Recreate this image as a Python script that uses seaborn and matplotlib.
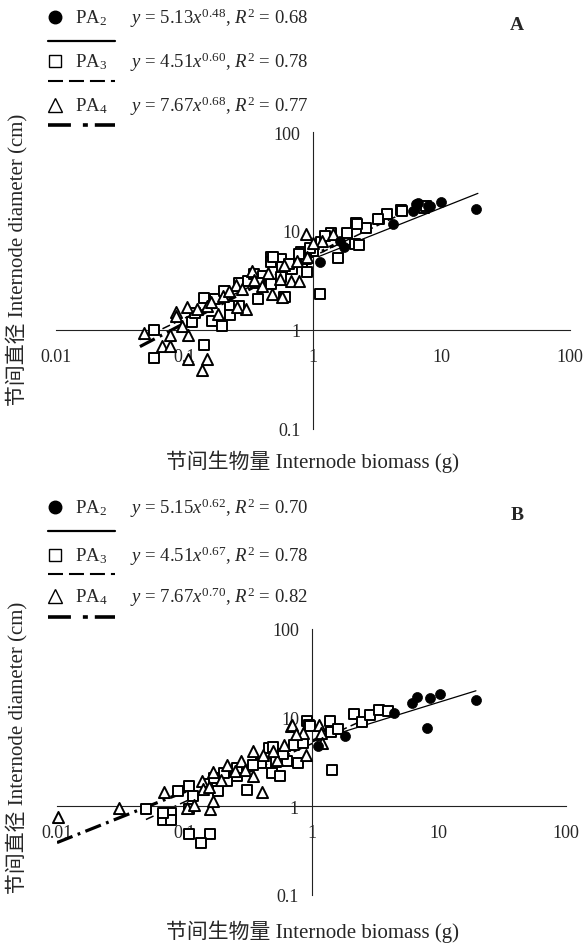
import numpy as np
import pandas as pd
import matplotlib
matplotlib.use("Agg")
import matplotlib.pyplot as plt
from matplotlib.lines import Line2D
from matplotlib.ticker import NullLocator
import seaborn as sns

# ---- panel A data ----
a_pa2_x = [1.13, 1.74, 1.61, 4.17, 5.95, 6.6, 8.1, 7.8, 9.86, 18.5, 6.3]
a_pa2_y = [4.9, 6.85, 8.0, 11.7, 16.0, 19.2, 17.7, 18.0, 19.8, 16.7, 18.7]

a_pa3_x = [0.058, 0.058, 0.142, 0.114, 0.163, 0.197, 0.142, 0.173, 0.203, 0.226,
           0.226, 0.266, 0.266, 0.31, 0.348, 0.408, 0.37, 0.47, 0.47, 0.47,
           0.56, 0.56, 0.595, 0.69, 0.80, 0.90, 0.82, 0.577, 1.13, 1.57,
           2.15, 2.12, 1.85, 1.37, 1.15, 1.0, 0.80, 0.88, 2.57, 3.27,
           3.78, 4.8, 7.3, 0.61, 0.486, 0.78, 1.24, 2.2, 2.28, 3.23,
           4.9, 7.6, 0.12, 0.38, 0.65, 0.95]
a_pa3_y = [1.0, 0.52, 0.71, 1.21, 1.24, 1.10, 2.09, 2.06, 2.49, 1.73,
           1.42, 1.73, 2.98, 3.15, 3.68, 3.53, 2.06, 2.91, 5.42, 4.9,
           3.4, 5.2, 2.14, 4.13, 5.86, 3.83, 4.83, 4.3, 2.31, 5.3,
           12.0, 7.4, 9.5, 9.5, 7.8, 6.3, 6.1, 5.2, 10.6, 13.2,
           14.9, 16.4, 16.9, 2.14, 5.42, 5.86, 8.9, 11.7, 7.2, 13.2,
           16.0, 17.7, 1.5, 3.0, 4.6, 6.8]

a_pa4_x = [0.048, 0.067, 0.077, 0.077, 0.107, 0.096, 0.107, 0.151, 0.138, 0.086,
           0.086, 0.105, 0.126, 0.183, 0.30, 0.257, 0.151, 0.25, 0.333, 0.477,
           0.577, 0.67, 0.78, 0.40, 0.89, 1.42, 1.18, 0.2, 0.22, 0.35,
           0.45, 0.6, 0.75, 0.9, 1.0, 0.55, 0.16, 0.28]
a_pa4_y = [0.93, 0.69, 0.69, 0.88, 0.88, 1.09, 0.51, 0.51, 0.39, 1.51,
           1.38, 1.69, 1.63, 1.45, 1.63, 1.69, 1.76, 2.85, 3.98, 2.31,
           2.14, 3.15, 3.15, 2.8, 9.3, 9.3, 8.0, 2.2, 2.5, 3.2,
           3.8, 4.5, 5.0, 5.5, 7.5, 3.3, 1.9, 2.6]

# fitted lines, end points
a_fit2_x, a_fit2_y = [1.1, 19.2], [5.5, 24.0]
a_fit3_x, a_fit3_y = [0.045, 8.5], [0.8, 21.0]
a_fit4_x, a_fit4_y = [0.045, 1.45], [0.68, 7.2]

# ---- panel B data ----
b_pa2_x = [1.12, 1.85, 4.46, 6.2, 6.7, 8.6, 10.2, 19.6, 8.1]
b_pa2_y = [4.74, 6.25, 11.2, 14.6, 16.9, 16.6, 18.5, 16.0, 7.6]

b_pa3_x = [0.05, 0.068, 0.078, 0.078, 0.068, 0.109, 0.159, 0.136, 0.109, 0.089,
           0.118, 0.109, 0.31, 0.184, 0.26, 0.218, 0.49, 0.57, 0.79, 0.64,
           0.53, 0.46, 0.5, 0.73, 0.92, 0.95, 0.85, 0.4, 0.26, 0.205,
           0.98, 1.41, 1.46, 1.43, 1.61, 2.15, 2.5, 2.9, 3.38, 3.97,
           0.6, 0.35, 0.15, 0.17]
b_pa3_y = [0.94, 0.71, 0.84, 0.71, 0.84, 0.49, 0.49, 0.39, 1.68, 1.5,
           1.30, 0.93, 1.54, 1.48, 2.18, 1.91, 2.37, 2.18, 3.08, 3.21,
           3.15, 4.54, 4.7, 4.96, 9.1, 8.2, 5.17, 3.08, 2.7, 2.37,
           8.0, 9.2, 2.59, 6.87, 7.5, 11.0, 8.9, 10.6, 12.3, 11.8,
           3.9, 2.9, 1.8, 2.1]

b_pa4_x = [0.0101, 0.0305, 0.069, 0.105, 0.119, 0.159, 0.169, 0.138, 0.141, 0.169,
           0.218, 0.25, 0.35, 0.41, 0.35, 0.418, 0.606, 0.69, 0.86, 0.54,
           0.277, 0.193, 0.156, 0.705, 0.76, 1.14, 1.19, 1.21, 0.9, 0.5, 0.3]
b_pa4_y = [0.75, 0.95, 1.45, 0.97, 1.04, 0.94, 1.16, 1.91, 1.58, 2.44,
           2.9, 2.48, 2.18, 1.44, 4.17, 3.83, 4.96, 7.98, 6.7, 3.36,
           3.21, 2.0, 1.64, 8.3, 6.5, 8.3, 6.7, 5.17, 3.83, 4.2, 2.6]

b_fit2_x, b_fit2_y = [1.1, 19.6], [5.6, 20.1]
b_fit3_x, b_fit3_y = [0.05, 4.2], [0.71, 13.0]
b_fit4_x, b_fit4_y = [0.01, 1.3], [0.39, 6.3]

eq_a = [r"$y$ = 5.13$x^{0.48}$, $R^2$ = 0.68",
        r"$y$ = 4.51$x^{0.60}$, $R^2$ = 0.78",
        r"$y$ = 7.67$x^{0.68}$, $R^2$ = 0.77"]
eq_b = [r"$y$ = 5.15$x^{0.62}$, $R^2$ = 0.70",
        r"$y$ = 4.51$x^{0.67}$, $R^2$ = 0.78",
        r"$y$ = 7.67$x^{0.70}$, $R^2$ = 0.82"]
series_names = [r"PA$_2$", r"PA$_3$", r"PA$_4$"]

x_ticks = [0.01, 0.1, 1, 10, 100]
x_labels = ["0.01", "0.1", "1", "10", "100"]
y_ticks = [0.1, 1, 10, 100]
y_labels = ["0.1", "1", "10", "100"]

sns.set_style("white")
plt.rcParams["font.family"] = ["Liberation Serif", "Noto Sans CJK SC"]
plt.rcParams["mathtext.fontset"] = "custom"
plt.rcParams["mathtext.rm"] = "Liberation Serif"
plt.rcParams["mathtext.it"] = "Liberation Serif:italic"
plt.rcParams["lines.scale_dashes"] = False

W, H = 585, 945
fig = plt.figure(figsize=(W / 100, H / 100), dpi=100)


def fx(px):
    return px / W


def fy(py):
    return 1 - py / H


dash3 = (0, (6, 3))
dash4 = (0, (12, 4, 2, 4))


def draw_panel(rect, p2, p3, p4, f2, f3, f4):
    ax = fig.add_axes(rect)
    ax.set_xscale("log")
    ax.set_yscale("log")
    ax.set_xlim(0.01, 100)
    ax.set_ylim(0.1, 100)

    sns.lineplot(x=f2[0], y=f2[1], ax=ax, color="black", linewidth=0.9)
    sns.lineplot(x=f3[0], y=f3[1], ax=ax, color="black", linewidth=1.1, linestyle=dash3)
    sns.lineplot(x=f4[0], y=f4[1], ax=ax, color="black", linewidth=2.3, linestyle=dash4)

    sns.scatterplot(x=p3[0], y=p3[1], ax=ax, marker="s", s=48, color="white",
                    edgecolor="black", linewidth=1.4, zorder=3, clip_on=False)
    sns.scatterplot(x=p4[0], y=p4[1], ax=ax, marker="^", s=64, color="white",
                    edgecolor="black", linewidth=1.4, zorder=3, clip_on=False)
    sns.scatterplot(x=p2[0], y=p2[1], ax=ax, marker="o", s=52, color="black",
                    edgecolor="black", linewidth=0.5, zorder=4, clip_on=False)

    for side in ["top", "right"]:
        ax.spines[side].set_visible(False)
    ax.spines["left"].set_position(("data", 1))
    ax.spines["bottom"].set_position(("data", 1))
    for side in ["left", "bottom"]:
        ax.spines[side].set_linewidth(0.8)
        ax.spines[side].set_color("#222222")

    ax.set_xticks(x_ticks)
    ax.set_xticklabels(x_labels)
    ax.set_yticks(y_ticks)
    ax.set_yticklabels(y_labels)
    ax.xaxis.set_minor_locator(NullLocator())
    ax.yaxis.set_minor_locator(NullLocator())
    ax.tick_params(axis="x", direction="in", length=3, width=0.8, pad=13, labelsize=13)
    ax.tick_params(axis="y", direction="in", length=3, width=0.8, pad=9, labelsize=13)
    ax.set_xlabel("")
    ax.set_ylabel("")
    ax.patch.set_alpha(0)
    return ax


def draw_legend(rows, lines, eqs, letter, letter_y):
    markers = [dict(marker="o", markerfacecolor="black", markersize=9),
               dict(marker="s", markerfacecolor="white", markersize=8.5),
               dict(marker="^", markerfacecolor="white", markersize=9.5)]
    for ry, mk, name, eq in zip(rows, markers, series_names, eqs):
        fig.add_artist(Line2D([fx(55)], [fy(ry)], transform=fig.transFigure,
                              markeredgecolor="black", markeredgewidth=1.0,
                              linestyle="none", **mk))
        fig.text(fx(75), fy(ry), name, fontsize=13.5, va="center", ha="left")
        fig.text(fx(130), fy(ry), eq, fontsize=13.5, va="center", ha="left")
    styles = [dict(linewidth=1.6, linestyle="-"),
              dict(linewidth=1.5, linestyle=(0, (10.8, 4.3))),
              dict(linewidth=2.6, linestyle=(0, (16.5, 8.6, 3.6, 5)))]
    for ly, st in zip(lines, styles):
        fig.add_artist(Line2D([fx(48), fx(115)], [fy(ly), fy(ly)],
                              transform=fig.transFigure, color="black", **st))
    fig.text(fx(517), fy(letter_y), letter, fontsize=14, fontweight="bold",
             ha="center", va="center")


ax_a = draw_panel([fx(56), fy(430), 514 / W, 297 / H],
                  (a_pa2_x, a_pa2_y), (a_pa3_x, a_pa3_y), (a_pa4_x, a_pa4_y),
                  (a_fit2_x, a_fit2_y), (a_fit3_x, a_fit3_y), (a_fit4_x, a_fit4_y))
ax_b = draw_panel([fx(57), fy(896), 509 / W, 266 / H],
                  (b_pa2_x, b_pa2_y), (b_pa3_x, b_pa3_y), (b_pa4_x, b_pa4_y),
                  (b_fit2_x, b_fit2_y), (b_fit3_x, b_fit3_y), (b_fit4_x, b_fit4_y))

draw_legend([18, 62, 106], [42, 82, 126], eq_a, "A", 25)
draw_legend([508, 556, 597], [532, 575, 618], eq_b, "B", 515)

ylab = "节间直径 Internode diameter (cm)"
xlab = "节间生物量 Internode biomass (g)"
fig.text(fx(17), fy(260), ylab, rotation=90, fontsize=15, ha="center", va="center")
fig.text(fx(313), fy(462), xlab, fontsize=15, ha="center", va="center")
fig.text(fx(17), fy(748), ylab, rotation=90, fontsize=15, ha="center", va="center")
fig.text(fx(313), fy(932), xlab, fontsize=15, ha="center", va="center")

fig.savefig("out.png", dpi=100, facecolor="white")
